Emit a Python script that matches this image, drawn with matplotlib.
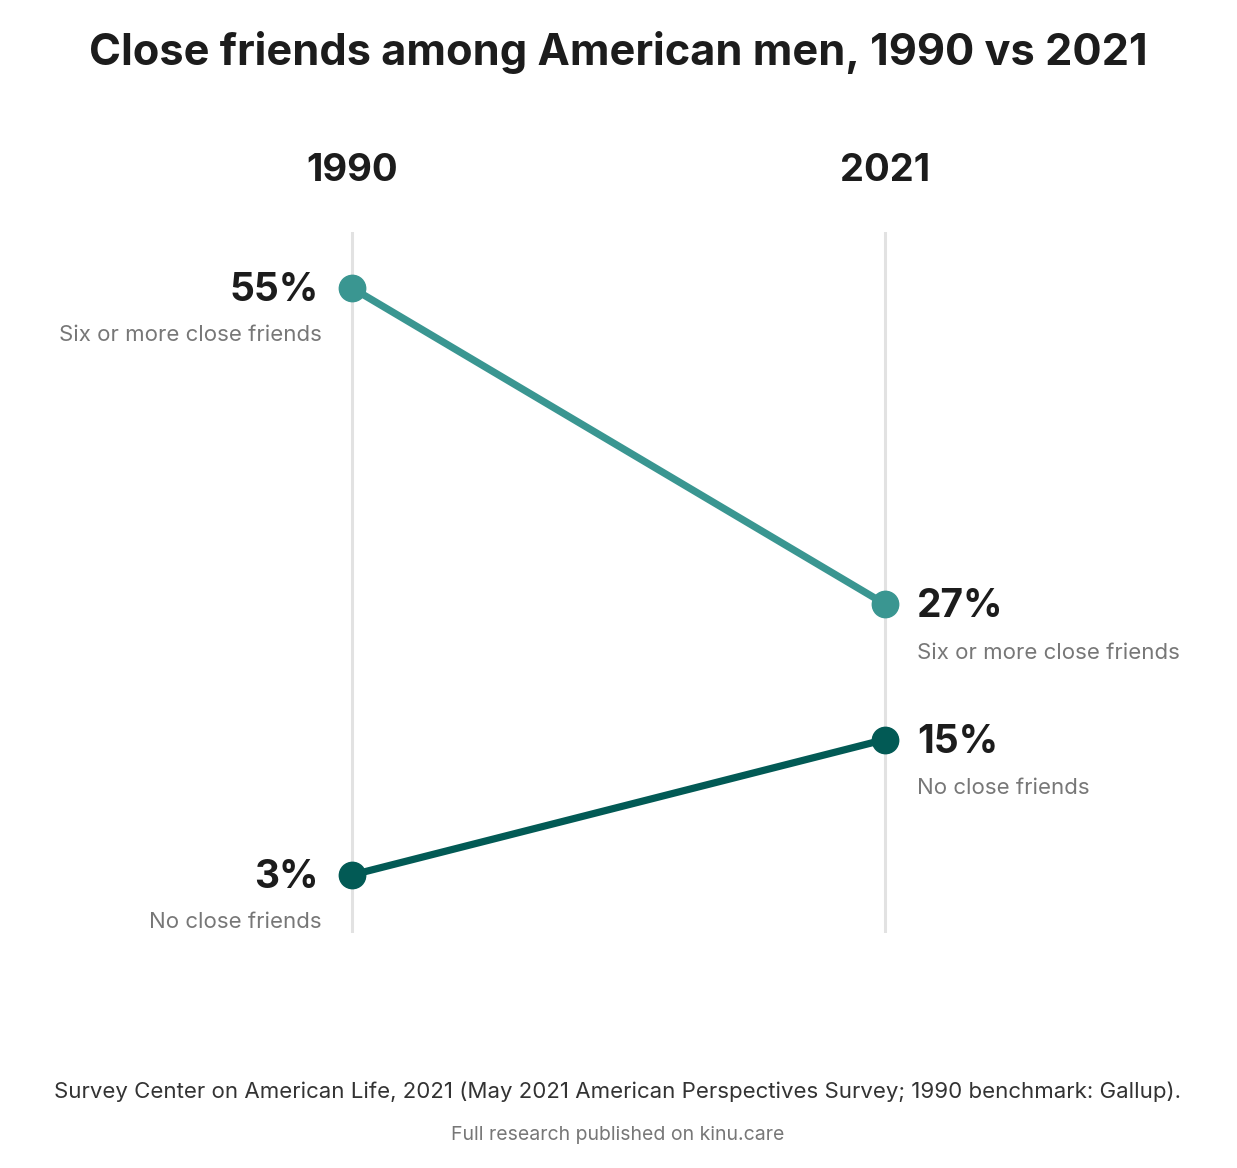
import matplotlib
matplotlib.use("Agg")
import matplotlib.pyplot as plt

plt.rcParams['font.family'] = ['Inter', 'DejaVu Sans']

years = ["1990", "2021"]
series_names = ["Six or more close friends", "No close friends"]
six_or_more = [55, 27]
no_close = [3, 15]
colors = ["#3a9691", "#025a55"]

title = "Close friends among American men, 1990 vs 2021"
source = "Survey Center on American Life, 2021 (May 2021 American Perspectives Survey; 1990 benchmark: Gallup)."
note = "Full research published on kinu.care"

W, H = 1237, 1168
fig = plt.figure(figsize=(W / 100, H / 100), dpi=100)
fig.patch.set_facecolor("white")

# axes spans full width; vertical extent = gridline span
ax_top, ax_bot = 232, 933
ax = fig.add_axes([0, 1 - ax_bot / H, 1, (ax_bot - ax_top) / H])
ax.set_xlim(-352 / 533, (W - 352) / 533)
ax.set_ylim(-2.14, 59.96)
ax.axis("off")

xs = [0, 1]
for x in xs:
    ax.axvline(x, color="#e2e2e2", lw=2.2, zorder=0)

for vals, name, c in zip([six_or_more, no_close], series_names, colors):
    ax.plot(xs, vals, color=c, lw=5.2, solid_capstyle="round", zorder=2)
    ax.plot(xs, vals, "o", color=c, ms=19, zorder=3)
    # left labels
    ax.annotate(f"{vals[0]}%", (xs[0], vals[0]), xytext=(-24, -2), textcoords="offset points",
                ha="right", va="center", fontsize=28, fontweight="bold", color="#1c1c1c")
    ax.annotate(name, (xs[0], vals[0]), xytext=(-22, -34), textcoords="offset points",
                ha="right", va="center", fontsize=16, color="#777777")
    # right labels
    ax.annotate(f"{vals[1]}%", (xs[1], vals[1]), xytext=(23, -2), textcoords="offset points",
                ha="left", va="center", fontsize=28, fontweight="bold", color="#1c1c1c")
    ax.annotate(name, (xs[1], vals[1]), xytext=(23, -35), textcoords="offset points",
                ha="left", va="center", fontsize=16, color="#777777")

for x, yr in zip(xs, years):
    ax.annotate(yr, (x, 59.96), xytext=(0, 44), textcoords="offset points",
                ha="center", va="center", fontsize=27.5, fontweight="bold", color="#1c1c1c",
                annotation_clip=False)

fig.text(618 / W, 1 - 53 / H, title, ha="center", va="center", fontsize=31.2,
         fontweight="bold", color="#1c1c1c")
fig.text(618 / W, 1 - 1092 / H, source, ha="center", va="center", fontsize=16, color="#333333")
fig.text(618 / W, 1 - 1135 / H, note, ha="center", va="center", fontsize=14, color="#777777")

fig.savefig("out.png", dpi=100, facecolor="white")
